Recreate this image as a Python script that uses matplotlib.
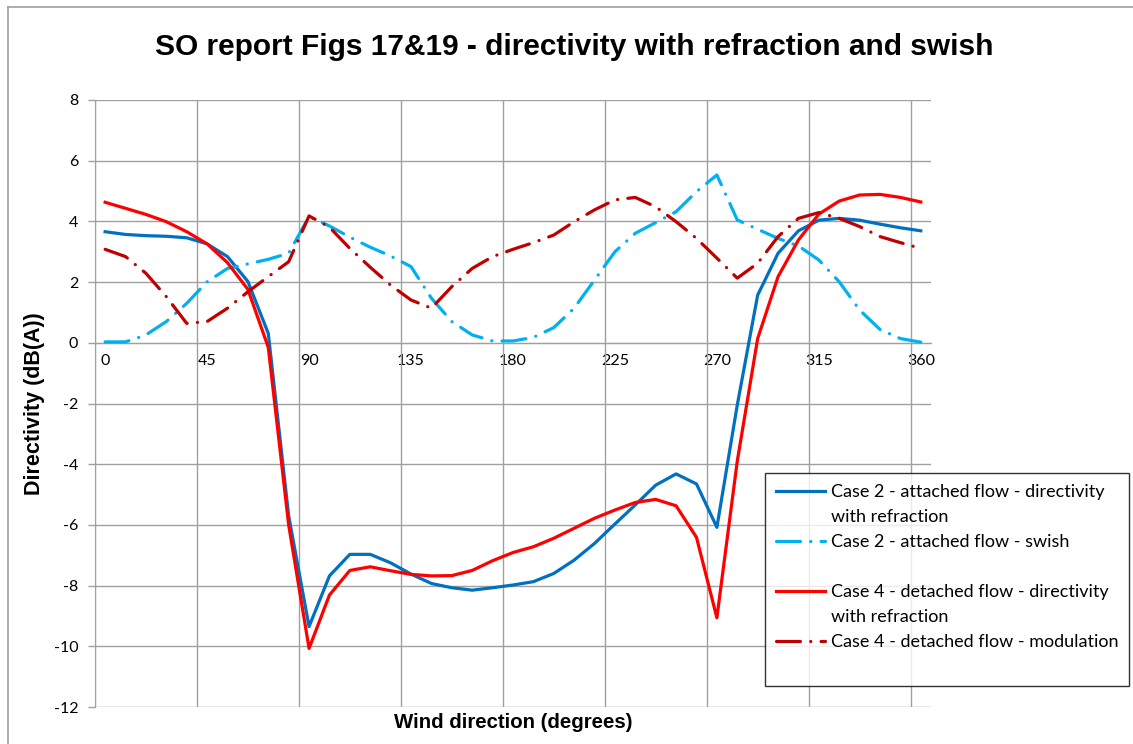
import numpy as np
import matplotlib.pyplot as plt
from matplotlib.lines import Line2D

# --- datos (cada 9 grados, 0..360) ---
wind_dir = np.arange(0, 361, 9)

case2_directivity = [3.66, 3.57, 3.53, 3.51, 3.46, 3.26, 2.84, 2.02, 0.31, -5.7,
                     -9.35, -7.68, -6.97, -6.97, -7.25, -7.62, -7.93, -8.07, -8.15, -8.07,
                     -7.98, -7.87, -7.6, -7.16, -6.61, -5.97, -5.34, -4.69, -4.32, -4.65,
                     -6.08, -2.05, 1.57, 2.95, 3.69, 4.04, 4.1, 4.04, 3.91, 3.79, 3.69]

case2_swish = [0.03, 0.03, 0.26, 0.7, 1.3, 2.01, 2.45, 2.6, 2.75, 2.95,
               4.16, 3.85, 3.48, 3.15, 2.86, 2.51, 1.47, 0.7, 0.26, 0.06,
               0.06, 0.18, 0.5, 1.14, 2.07, 3.0, 3.61, 3.96, 4.32, 4.98,
               5.53, 4.05, 3.74, 3.44, 3.19, 2.73, 2.01, 1.08, 0.44, 0.14, 0.02]

case4_directivity = [4.63, 4.43, 4.23, 3.99, 3.66, 3.26, 2.64, 1.76, -0.15, -6.0,
                     -10.07, -8.31, -7.5, -7.38, -7.51, -7.63, -7.68, -7.67, -7.5, -7.18,
                     -6.91, -6.72, -6.44, -6.11, -5.78, -5.51, -5.26, -5.16, -5.37, -6.41,
                     -9.06, -3.9, 0.14, 2.18, 3.39, 4.24, 4.67, 4.87, 4.89, 4.79, 4.64]

case4_modulation = [3.08, 2.84, 2.29, 1.52, 0.64, 0.7, 1.14, 1.68, 2.18, 2.67,
                    4.18, 3.81, 3.11, 2.49, 1.9, 1.41, 1.14, 1.85, 2.45, 2.84,
                    3.08, 3.3, 3.55, 3.99, 4.38, 4.71, 4.79, 4.48, 3.99, 3.44,
                    2.79, 2.13, 2.62, 3.5, 4.1, 4.29, 4.1, 3.83, 3.5, 3.3, 3.11]

# etiquetas de la leyenda (la segunda línea va como fila aparte, igual que Excel)
labels = [('Case 2 - attached flow - directivity', 'with refraction'),
          ('Case 2 - attached flow - swish', ' '),
          ('Case 4 - detached flow - directivity', 'with refraction'),
          ('Case 4 - detached flow - modulation', ' ')]

plt.rcParams['font.family'] = ['Lato', 'DejaVu Sans']
plt.rcParams['axes.unicode_minus'] = False
bold_font = ['Liberation Sans', 'DejaVu Sans']

fig = plt.figure(figsize=(11.33, 7.44), dpi=100)
ax = fig.add_axes([0.0838, 0.0497, 0.7379, 0.8159])

lw = 2.3
dashdot = (7.5, 3.2, 0.05, 3.2)

ax.plot(wind_dir, case2_directivity, color='#0070C0', lw=lw, zorder=3)
ax.plot(wind_dir, case2_swish, color='#00B0F0', lw=lw, dashes=dashdot,
        dash_capstyle='round', zorder=3)
ax.plot(wind_dir, case4_directivity, color='#FF0000', lw=lw, zorder=3)
ax.plot(wind_dir, case4_modulation, color='#C00000', lw=lw, dashes=dashdot,
        dash_capstyle='round', zorder=3)

# ejes tipo Excel: categorías centradas, rejilla en los bordes
ax.set_xlim(-4.5, 364.5)
ax.set_ylim(-12, 8)
ax.set_xticks(np.arange(0, 361, 45))
ax.set_xticks(np.arange(-4.5, 364.5, 45), minor=True)
ax.set_yticks(np.arange(-12, 9, 2))
ax.grid(True, which='minor', axis='x', color='#A0A0A0', lw=1.0)
ax.grid(True, which='major', axis='y', color='#A0A0A0', lw=1.0)
ax.tick_params(axis='x', which='both', length=0, pad=8, labelsize=11.5)
ax.tick_params(axis='y', length=5, color='#A0A0A0', width=1.0, pad=7, labelsize=11.5)

for s in ['top', 'right']:
    ax.spines[s].set_visible(False)
ax.spines['left'].set_color('#A0A0A0')
ax.spines['bottom'].set_position(('data', 0))
ax.spines['bottom'].set_color('#A0A0A0')

ax.set_ylabel('Directivity (dB(A))', fontsize=15.5, fontweight='bold', labelpad=6,
              family=bold_font)
fig.text(0.453, 0.029, 'Wind direction (degrees)', fontsize=14.7, fontweight='bold',
         ha='center', va='center', family=bold_font)
fig.text(0.507, 0.937, 'SO report Figs 17&19 - directivity with refraction and swish',
         fontsize=21.5, fontweight='bold', ha='center', va='center', family=bold_font)

# leyenda
blank = Line2D([], [], color='none')
h = ax.get_lines()
handles, leg_labels = [], []
for line, (first, second) in zip(h, labels):
    handles += [line, blank]
    leg_labels += [first, second]
leg = fig.legend(handles, leg_labels, loc='upper left', bbox_to_anchor=(0.675, 0.3642),
                 fontsize=13, frameon=True, fancybox=False, edgecolor='black',
                 handlelength=2.75, handletextpad=0.3, labelspacing=0.5, borderpad=0.6,
                 borderaxespad=0)
leg.get_frame().set_linewidth(1.0)

# borde del área del gráfico
fig.add_artist(Line2D([0.007, 0.007], [0, 0.99], color='#A0A0A0', lw=1.2))
fig.add_artist(Line2D([0.007, 1.0], [0.99, 0.99], color='#A0A0A0', lw=1.2))

fig.savefig('out.png', dpi=100)
